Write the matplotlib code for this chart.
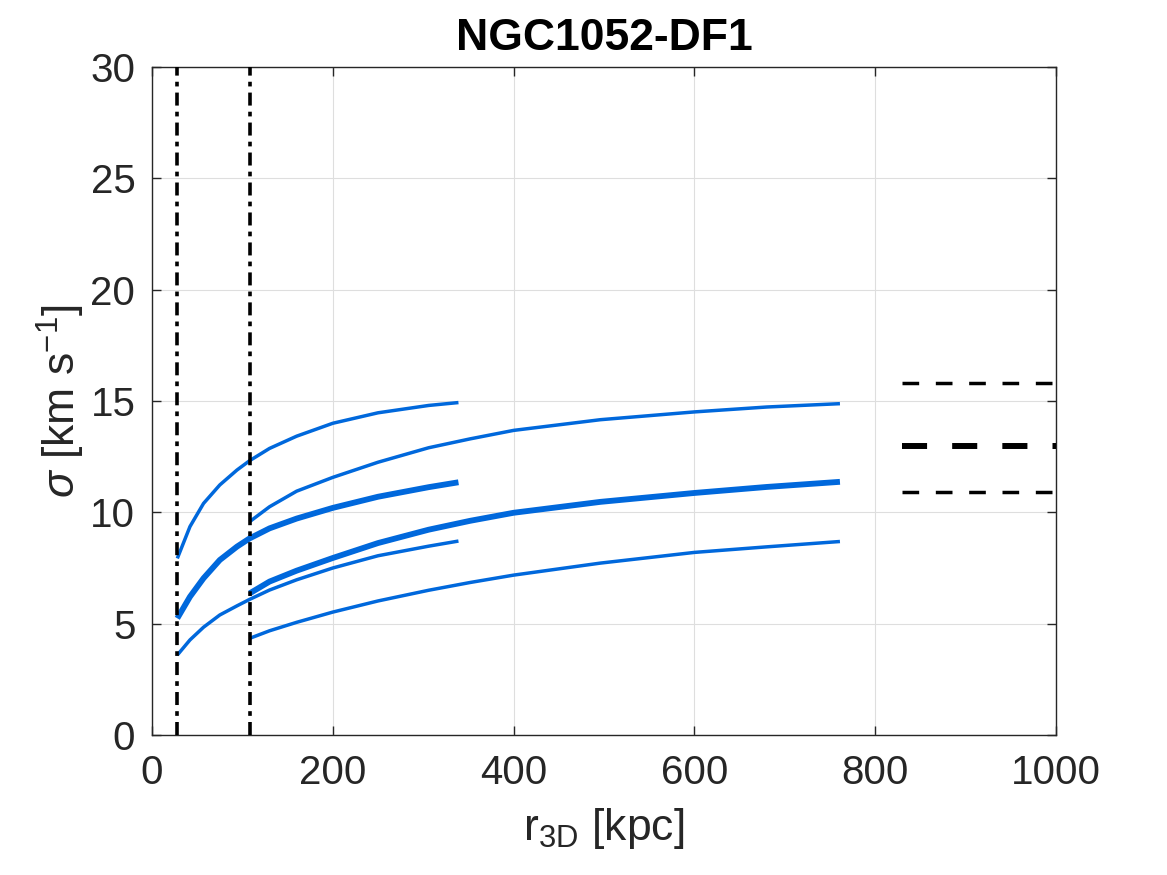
import matplotlib
matplotlib.use("Agg")
import matplotlib.pyplot as plt

# ---------------- data ----------------
title = "NGC1052-DF1"
r_inner = [28, 42, 57, 75, 94, 108, 130, 160, 200, 250, 306, 339]
r_outer = [108, 130, 160, 200, 250, 306, 352, 400, 496, 600, 680, 761]

sig_A = [7.93, 9.36, 10.4, 11.23, 11.9, 12.32, 12.87, 13.42, 14.0, 14.47, 14.8, 14.93]
sig_C = [5.24, 6.21, 7.04, 7.86, 8.46, 8.83, 9.28, 9.72, 10.2, 10.7, 11.13, 11.35]
sig_E = [3.59, 4.27, 4.84, 5.39, 5.8, 6.09, 6.51, 6.97, 7.5, 8.05, 8.48, 8.71]

sig_B = [9.58, 10.25, 10.95, 11.57, 12.25, 12.9, 13.3, 13.68, 14.16, 14.51, 14.73, 14.88]
sig_D = [6.36, 6.89, 7.38, 7.95, 8.62, 9.22, 9.62, 9.98, 10.47, 10.87, 11.14, 11.37]
sig_F = [4.34, 4.68, 5.06, 5.52, 6.02, 6.5, 6.85, 7.18, 7.72, 8.2, 8.45, 8.69]

vlines_r = [28, 108]
obs_sigma = 13.0
obs_sigma_lo = 10.9
obs_sigma_hi = 15.8
obs_r_range = [830, 1000]

xticks = [0, 200, 400, 600, 800, 1000]
yticks = [0, 5, 10, 15, 20, 25, 30]

# ---------------- style ----------------
plt.rcParams['font.family'] = ['Liberation Sans', 'DejaVu Sans']
plt.rcParams['mathtext.fontset'] = 'custom'
plt.rcParams['mathtext.rm'] = 'Liberation Sans'
plt.rcParams['mathtext.it'] = 'Liberation Sans:italic'
plt.rcParams['mathtext.bf'] = 'Liberation Sans:bold'

dark = '#262626'
blue = '#0068dc'

fig = plt.figure(figsize=(11.67, 8.75), dpi=100)
ax = fig.add_axes([152/1167, 1 - 735/875, (1056-152)/1167, (735-67)/875])

thin = 2.5
thick = 4.2
kw = dict(color=blue, solid_capstyle='butt', solid_joinstyle='round', zorder=3)
ax.plot(r_inner, sig_A, lw=thin, **kw)
ax.plot(r_inner, sig_C, lw=thick, **kw)
ax.plot(r_inner, sig_E, lw=thin, **kw)
ax.plot(r_outer, sig_B, lw=thin, **kw)
ax.plot(r_outer, sig_D, lw=thick, **kw)
ax.plot(r_outer, sig_F, lw=thin, **kw)

for rv in vlines_r:
    ax.plot([rv, rv], [0, 30], color='black', lw=2.6,
            dashes=(3.6, 1.7, 1.3, 1.7), zorder=4)

ax.plot(obs_r_range, [obs_sigma_hi]*2, color='black', lw=2.5, dashes=(4.8, 4.8), zorder=4)
ax.plot(obs_r_range, [obs_sigma_lo]*2, color='black', lw=2.5, dashes=(4.8, 4.8), zorder=4)
ax.plot(obs_r_range, [obs_sigma]*2, color='black', lw=4.3, dashes=(4.2, 4.2), zorder=4)

ax.set_xlim(0, 1000)
ax.set_ylim(0, 30)
ax.set_xticks(xticks)
ax.set_yticks(yticks)
ax.grid(True, color='#dedede', lw=0.8, zorder=0)
ax.set_axisbelow(True)

for s in ax.spines.values():
    s.set_color(dark)
    s.set_linewidth(1.0)
ax.tick_params(direction='in', length=6.5, width=1.0, color=dark,
               top=True, right=True, labelsize=29, labelcolor=dark)
ax.tick_params(axis='x', pad=14)
ax.tick_params(axis='y', pad=12)

ax.set_title(title, fontsize=32, fontweight='bold', pad=12, color='black')
ax.set_xlabel(r'r$_{\mathregular{3D}}$ [kpc]', fontsize=32, color=dark)
ax.set_ylabel(r'$\sigma$ [km s$^{\mathregular{-1}}$]', fontsize=32, color=dark)
ax.xaxis.set_label_coords(0.5, -0.106)
ax.yaxis.set_label_coords(-0.072, 0.5)

fig.savefig('out.png', dpi=100)
